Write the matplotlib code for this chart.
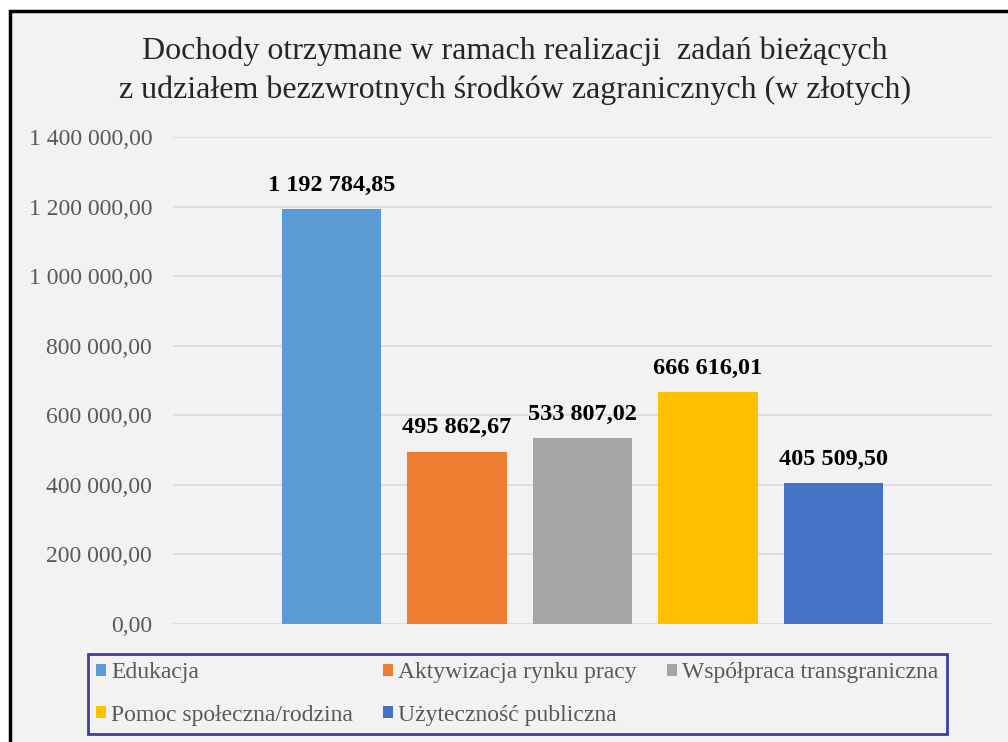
import matplotlib.pyplot as plt
from matplotlib.patches import Rectangle, Patch

# dane
categories = ["Edukacja", "Aktywizacja rynku pracy", "Współpraca transgraniczna",
              "Pomoc społeczna/rodzina", "Użyteczność publiczna"]
values = [1192784.85, 495862.67, 533807.02, 666616.01, 405509.50]
colors = ["#5b9bd5", "#ed7d31", "#a5a5a5", "#ffc000", "#4472c4"]
yticks = [0, 200000, 400000, 600000, 800000, 1000000, 1200000, 1400000]


def pl_format(v):
    # format polski: spacja jako separator tysięcy, przecinek dziesiętny
    s = f"{v:,.2f}"
    return s.replace(",", " ").replace(".", ",")


plt.rcParams['font.family'] = ['Liberation Serif', 'DejaVu Serif']

fig = plt.figure(figsize=(10.08, 7.42), dpi=100, facecolor="white")

# tło i ramka wykresu
frame = Rectangle((9.5 / 1008, -0.05), 1.1, 1.05 - 10.5 / 742, transform=fig.transFigure,
                  facecolor="#f2f2f2", edgecolor="black", linewidth=2.5, zorder=-10)
fig.patches.append(frame)

ax = fig.add_axes([173 / 1008, 1 - 624 / 742, (992 - 173) / 1008, (624 - 137) / 742])
ax.set_facecolor("none")

x = list(range(len(values)))
bars = ax.bar(x, values, width=0.79, color=colors, zorder=3)

for xi, v in zip(x, values):
    ax.annotate(pl_format(v), (xi, v), xytext=(0, 17), textcoords="offset points",
                ha="center", va="center", fontsize=17.5, fontweight="bold", color="black")

ax.set_xlim(-1.263, 5.263)
ax.set_ylim(0, 1400000)
ax.set_yticks(yticks)
ax.set_yticklabels([pl_format(t) for t in yticks], fontsize=17, color="#595959")
ax.set_xticks([])
ax.tick_params(axis="y", length=0, pad=15)
ax.grid(axis="y", color="#d9d9d9", linewidth=1.2, zorder=0)
for s in ax.spines.values():
    s.set_visible(False)

fig.text(515 / 1008, 1 - 71 / 742,
         "Dochody otrzymane w ramach realizacji  zadań bieżących\n"
         "z udziałem bezzwrotnych środków zagranicznych (w złotych)",
         ha="center", va="center", fontsize=23, color="#262626", linespacing=1.4)

# kolejność wierszami, jak w Excelu
order = [0, 3, 1, 4, 2]
handles = [Patch(facecolor=colors[i], edgecolor="none") for i in order]
labels = [categories[i] for i in order]
leg = fig.legend(handles, labels, ncol=3, loc="lower left",
                 bbox_to_anchor=(88 / 1008, 8 / 742), bbox_transform=fig.transFigure,
                 fontsize=17, labelcolor="#595959", frameon=True, fancybox=False,
                 handlelength=0.42, handleheight=0.42, handletextpad=0.2,
                 columnspacing=1.3, labelspacing=0.9, borderpad=0.35, borderaxespad=0)
leg.get_frame().set_edgecolor("#10108f")
leg.get_frame().set_linewidth(2)
leg.get_frame().set_facecolor("#f2f2f2")

fig.savefig("out.png", dpi=100, facecolor="white")
